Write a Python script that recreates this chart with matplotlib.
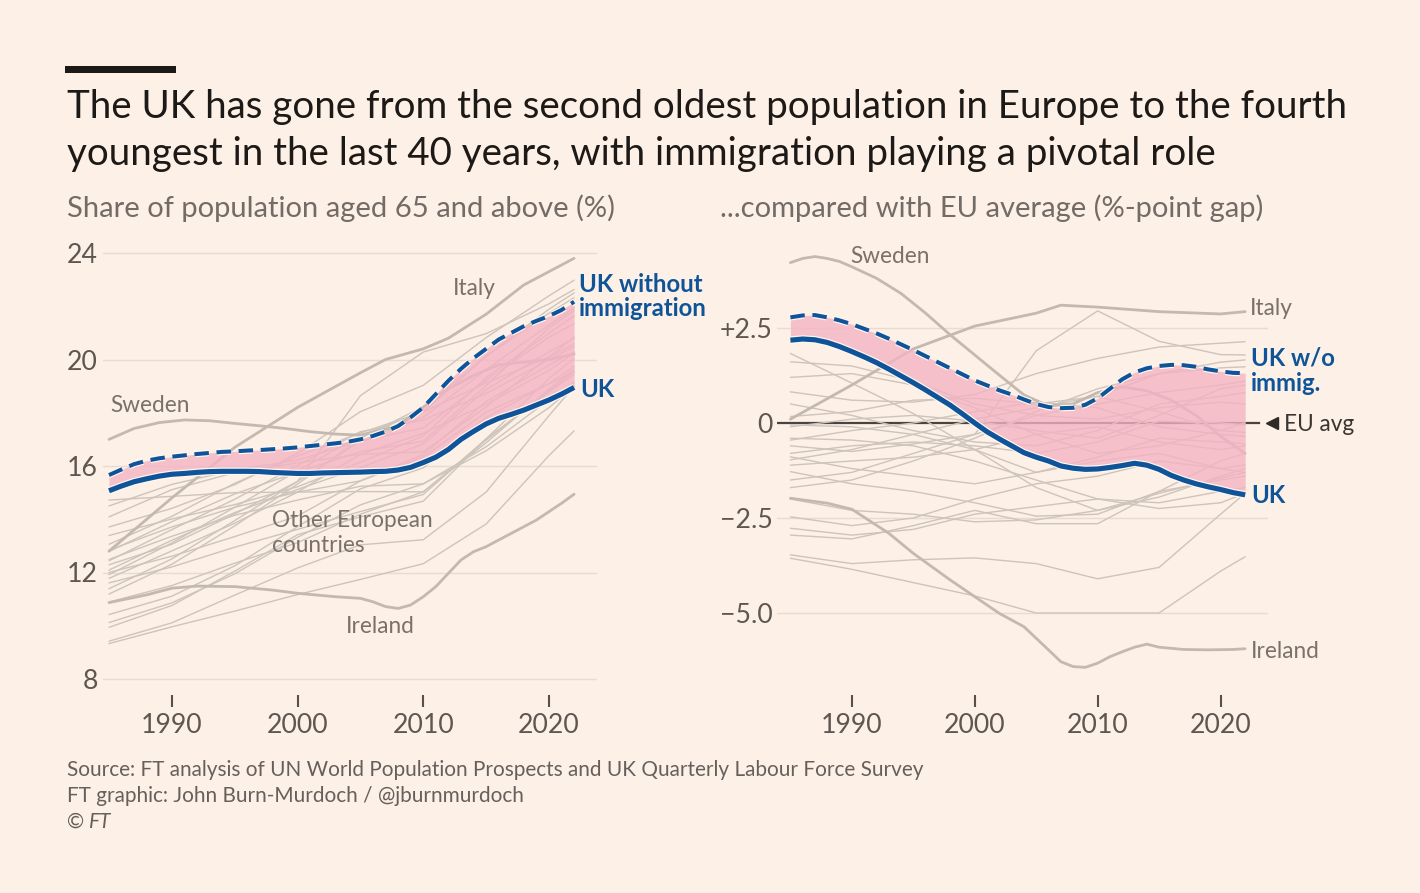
import matplotlib
matplotlib.use("Agg")
import matplotlib.pyplot as plt
from matplotlib.font_manager import FontProperties
from matplotlib.patches import Rectangle
import matplotlib.patheffects as pe

# ------------------------------------------------------------------ data
years = list(range(1985, 2023))
knot_years = [1985, 1990, 1995, 2000, 2005, 2010, 2015, 2020, 2022]

# Share of population aged 65+ (%)
uk_share = [15.07, 15.25, 15.41, 15.52, 15.62, 15.69, 15.72, 15.76, 15.79, 15.80,
            15.80, 15.80, 15.79, 15.76, 15.74, 15.72, 15.72, 15.74, 15.75, 15.76,
            15.77, 15.79, 15.80, 15.85, 15.95, 16.13, 16.33, 16.62, 17.00, 17.30,
            17.58, 17.79, 17.94, 18.10, 18.29, 18.48, 18.70, 18.95]
uk_noimm_share = [15.66, 15.87, 16.07, 16.20, 16.29, 16.35, 16.40, 16.45, 16.49, 16.53,
                  16.55, 16.58, 16.60, 16.63, 16.66, 16.70, 16.75, 16.80, 16.85, 16.91,
                  17.00, 17.13, 17.29, 17.50, 17.83, 18.20, 18.70, 19.20, 19.65, 20.05,
                  20.40, 20.75, 21.00, 21.25, 21.45, 21.63, 21.86, 22.17]

# Gap with the EU average (%-points)
uk_gap = [2.18, 2.21, 2.19, 2.12, 2.01, 1.88, 1.74, 1.59, 1.42, 1.24,
          1.06, 0.87, 0.67, 0.47, 0.24, 0.00, -0.23, -0.42, -0.60, -0.78,
          -0.90, -1.00, -1.13, -1.19, -1.22, -1.21, -1.17, -1.12, -1.06, -1.11,
          -1.22, -1.38, -1.50, -1.60, -1.68, -1.75, -1.83, -1.89]
uk_noimm_gap = [2.78, 2.83, 2.84, 2.78, 2.70, 2.60, 2.48, 2.36, 2.22, 2.07,
                1.92, 1.76, 1.60, 1.44, 1.28, 1.12, 0.99, 0.86, 0.75, 0.62,
                0.50, 0.42, 0.39, 0.40, 0.48, 0.65, 0.90, 1.15, 1.33, 1.44,
                1.50, 1.53, 1.52, 1.48, 1.41, 1.36, 1.32, 1.31]

sweden_share_years = [1985, 1987, 1989, 1991, 1993, 1995, 1997, 1999, 2001, 2003,
                      2005, 2008, 2010, 2012, 2014, 2016, 2018, 2020, 2022]
sweden_share = [17.00, 17.41, 17.63, 17.73, 17.70, 17.60, 17.51, 17.41, 17.29, 17.20,
                17.16, 17.50, 18.20, 18.90, 19.40, 19.80, 19.90, 20.00, 20.20]
italy_share_years = [1985, 1990, 1995, 2000, 2005, 2007, 2010, 2012, 2015, 2018, 2020, 2022]
italy_share = [12.80, 14.80, 16.70, 18.20, 19.50, 20.00, 20.40, 20.80, 21.70, 22.80, 23.30, 23.80]
ireland_share_years = [1985, 1988, 1990, 1992, 1995, 1998, 2000, 2003, 2005, 2006, 2007,
                       2008, 2009, 2010, 2011, 2012, 2013, 2014, 2015, 2017, 2019, 2021, 2022]
ireland_share = [10.87, 11.16, 11.41, 11.49, 11.47, 11.34, 11.22, 11.09, 11.03, 10.90, 10.72,
                 10.65, 10.78, 11.09, 11.47, 11.97, 12.47, 12.78, 12.97, 13.47, 13.97, 14.60, 14.94]

sweden_gap_years = [1985, 1986, 1987, 1988, 1989, 1990, 1992, 1994, 1996, 1998, 2000,
                    2002, 2004, 2006, 2008, 2010, 2012, 2014, 2016, 2018, 2020, 2022]
sweden_gap = [4.22, 4.33, 4.38, 4.33, 4.25, 4.11, 3.81, 3.41, 2.89, 2.32, 1.79,
              1.26, 0.74, 0.45, 0.50, 0.80, 0.95, 0.85, 0.60, 0.20, -0.35, -0.80]
italy_gap_years = [1985, 1990, 1995, 2000, 2005, 2007, 2010, 2015, 2020, 2022]
italy_gap = [0.10, 1.00, 1.95, 2.55, 2.89, 3.10, 3.05, 2.93, 2.87, 2.93]
ireland_gap_years = [1985, 1988, 1990, 1993, 1995, 1998, 2000, 2002, 2004, 2006, 2007, 2008,
                     2009, 2010, 2011, 2012, 2013, 2014, 2015, 2017, 2019, 2021, 2022]
ireland_gap = [-1.98, -2.11, -2.27, -2.90, -3.43, -4.13, -4.57, -5.01, -5.36, -5.97, -6.28, -6.41,
               -6.43, -6.32, -6.15, -6.02, -5.90, -5.82, -5.90, -5.96, -5.97, -5.96, -5.94]

# EU average share (%), at knot years
eu_avg = [12.89, 13.81, 14.75, 15.72, 16.74, 17.33, 18.82, 20.29, 20.84]

# Other European countries: gap with EU average at knot years
other_gaps = [
    [-0.60, -0.75, -0.55, -0.30, 1.90, 2.95, 2.15, 1.80, 1.79],
    [1.83, 1.05, 0.25, -0.70, -1.70, -2.30, -1.85, -1.45, -1.30],
    [1.61, 1.50, 1.10, 0.50, 0.20, 0.10, 0.40, 0.55, 0.50],
    [0.82, 0.60, 0.55, 0.75, 1.30, 1.70, 2.00, 2.10, 2.14],
    [0.17, 0.30, 0.60, 0.65, 0.50, 0.70, 1.30, 1.45, 1.48],
    [-0.10, 0.10, 0.20, 0.05, -0.20, -0.40, 0.20, 0.90, 1.00],
    [-0.45, -0.20, 0.00, 0.30, 0.55, 0.40, -0.10, -0.30, -0.35],
    [-0.80, -0.60, -0.50, -0.60, -0.80, -0.50, 0.05, 0.00, -0.05],
    [-0.97, -0.70, -0.30, 0.10, 0.40, 0.70, 0.30, -0.20, -0.25],
    [-1.11, -1.00, -0.90, -0.70, -0.30, -0.10, -0.50, -0.70, -0.60],
    [-1.28, -1.60, -1.80, -2.10, -2.45, -2.40, -1.80, -1.50, -1.40],
    [-0.40, -0.45, -0.60, -1.00, -1.50, -2.00, -2.25, -2.10, -1.85],
    [-0.05, -0.10, -0.30, -0.70, -1.30, -1.00, -0.80, -1.20, -1.30],
    [-2.47, -2.70, -2.50, -2.00, -1.60, -1.40, -1.00, -1.20, -1.10],
    [-2.77, -2.95, -2.80, -2.40, -2.20, -2.00, -2.10, -1.80, -1.70],
    [-2.95, -3.05, -2.70, -2.30, -2.65, -2.65, -1.80, -1.00, -0.80],
    [-3.47, -3.70, -3.60, -3.55, -3.70, -4.10, -3.80, -2.40, -1.85],
    [-3.56, -3.85, -4.20, -4.55, -5.00, -5.00, -5.00, -3.90, -3.52],
    [0.50, 0.20, -0.20, -0.50, -0.60, -0.20, 0.50, 0.70, 0.80],
    [-1.50, -1.30, -0.80, -0.30, 0.20, 0.50, 0.80, 1.00, 1.10],
    [-0.89, -1.20, -1.40, -1.60, -1.30, -0.90, -0.40, -0.50, -0.55],
    [-2.00, -2.30, -2.40, -2.60, -2.55, -2.30, -1.95, -1.40, -1.20],
    [-1.70, -1.50, -1.00, -0.40, 0.30, 0.90, 1.30, 1.60, 1.66],
    [1.20, 1.30, 1.00, 0.40, -0.30, -0.80, -0.60, -0.20, 0.00],
]
other_shares = [[g + e for g, e in zip(gap, eu_avg)] for gap in other_gaps]

left_yticks = [8, 12, 16, 20, 24]
left_ylabels = ["8", "12", "16", "20", "24"]
right_yticks = [2.5, 0, -2.5, -5.0]
right_ylabels = ["+2.5", "0", "\u22122.5", "\u22125.0"]
xticks = [1990, 2000, 2010, 2020]
xlabels = ["1990", "2000", "2010", "2020"]

title_lines = ["The UK has gone from the second oldest population in Europe to the fourth",
               "youngest in the last 40 years, with immigration playing a pivotal role"]
subtitle_left = "Share of population aged 65 and above (%)"
subtitle_right = "...compared with EU average (%-point gap)"
footer_lines = ["Source: FT analysis of UN World Population Prospects and UK Quarterly Labour Force Survey",
                "FT graphic: John Burn-Murdoch / @jburnmurdoch"]

# ------------------------------------------------------------------ style
BG = "#FDF0E6"
BLUE = "#0F5499"
PINK = "#F5B3C3"
GREY = "#CDC4BC"
KEYGREY = "#C3B9B1"
GRID = "#E8DCD2"
TICKC = "#5E5751"
LABELC = "#7A716B"
FAM = ["Lato", "DejaVu Sans"]
plt.rcParams["font.family"] = FAM

W, H = 1420, 893
fig = plt.figure(figsize=(W / 100, H / 100), dpi=100)
fig.patch.set_facecolor(BG)
renderer = fig.canvas.get_renderer()


def text_width(text, size, **kw):
    fp = FontProperties(family=FAM, size=size, **kw)
    w, _, _ = renderer.get_text_width_height_descent(text, fp, ismath=False)
    return w


def fit(text, target_px, **kw):
    return 50.0 * target_px / text_width(text, 50, **kw)


def fx(x):
    return x / W


def fy(y):
    return 1 - y / H


fs_title = fit(title_lines[0], 1278)
fs_sub = fit(subtitle_left, 546)
fs_foot = fit(footer_lines[0], 854)
fs_tick = fit("1990", 62)
fs_blue = fit("UK without", 124, weight="bold")
fs_grey = fit("Other European", 160)

# header
fig.add_artist(Rectangle((fx(65), fy(73)), 111 / W, 7 / H, transform=fig.transFigure,
                         color="#1C1917", lw=0))
fig.text(fx(67), fy(118), title_lines[0], fontsize=fs_title, color="#1C1917", va="baseline")
fig.text(fx(67), fy(165), title_lines[1], fontsize=fs_title, color="#1C1917", va="baseline")
fig.text(fx(67), fy(217), subtitle_left, fontsize=fs_sub, color="#736B65", va="baseline")
fig.text(fx(720), fy(217), subtitle_right, fontsize=fs_sub, color="#736B65", va="baseline")
fig.text(fx(67), fy(776), footer_lines[0], fontsize=fs_foot, color="#66605C", va="baseline")
fig.text(fx(67), fy(802), footer_lines[1], fontsize=fs_foot, color="#66605C", va="baseline")
copy_w = text_width("\u00a9", fs_foot)
fig.text(fx(67), fy(828), "\u00a9", fontsize=fs_foot, color="#66605C", va="baseline")
fig.text(fx(67 + copy_w + 5), fy(828), "FT", fontsize=fs_foot, color="#66605C",
         va="baseline", style="italic")

# ------------------------------------------------------------------ axes
axL = fig.add_axes([fx(103), fy(707), (597 - 103) / W, (707 - 245) / H])
axR = fig.add_axes([fx(777), fy(707), (1268 - 777) / W, (707 - 240) / H])
axL.set_xlim(1985 + (103 - 109) / 12.57, 1985 + (597 - 109) / 12.57)
axL.set_ylim(24 - (707 - 253) / 26.625, 24 - (245 - 253) / 26.625)
axR.set_xlim(1985 + (777 - 790.4) / 12.29, 1985 + (1268 - 790.4) / 12.29)
axR.set_ylim((423 - 707) / 38.0, (423 - 240) / 38.0)

for ax in (axL, axR):
    ax.set_facecolor("none")
    for s in ax.spines.values():
        s.set_visible(False)
    ax.set_xticks(xticks, xlabels)
    ax.tick_params(axis="x", direction="in", length=8.6, width=1.5, color="#57504B",
                   pad=4.5, labelsize=fs_tick, labelcolor=TICKC)
    ax.tick_params(axis="y", length=0, labelsize=fs_tick, labelcolor=TICKC)

axL.set_yticks(left_yticks, left_ylabels)
axL.tick_params(axis="y", pad=3.6)
axR.set_yticks(right_yticks, right_ylabels)
axR.tick_params(axis="y", pad=2.9)

for v in left_yticks:
    axL.axhline(v, color=GRID, lw=1.0, zorder=0)
for v in right_yticks:
    if v != 0:
        axR.axhline(v, color=GRID, lw=1.0, zorder=0)
axR.axhline(0, xmin=0, xmax=(1259 - 777) / 491, color="#4A4440", lw=1.6, zorder=0.5)
axR.plot([(1272 - 777) / 491], [0], marker="<", ms=8.5, color="#2E2A27", lw=0,
         transform=axR.get_yaxis_transform(), clip_on=False)

# grey lines
line_kw = dict(color=GREY, lw=1.0, zorder=1, solid_joinstyle="round", solid_capstyle="round")
for share in other_shares:
    axL.plot(knot_years, share, **line_kw)
for gap in other_gaps:
    axR.plot(knot_years, gap, **line_kw)

key_kw = dict(color=KEYGREY, lw=2.0, zorder=1.5, solid_joinstyle="round", solid_capstyle="round")
axL.plot(sweden_share_years, sweden_share, **key_kw)
axL.plot(italy_share_years, italy_share, **key_kw)
axL.plot(ireland_share_years, ireland_share, **key_kw)
axR.plot(sweden_gap_years, sweden_gap, **key_kw)
axR.plot(italy_gap_years, italy_gap, **key_kw)
axR.plot(ireland_gap_years, ireland_gap, **key_kw)

# pink gap + blue lines
halo_solid = [pe.Stroke(linewidth=5.4, foreground="#FFF8F2"), pe.Normal()]
halo_dash = [pe.Stroke(linewidth=4.6, foreground="#FFF8F2"), pe.Normal()]
for ax, a, b in ((axL, uk_share, uk_noimm_share), (axR, uk_gap, uk_noimm_gap)):
    ax.fill_between(years, a, b, color=PINK, alpha=0.78, lw=0, zorder=2)
    ax.plot(years, b, color=BLUE, lw=2.9, ls=(0, (3.6, 1.9)), zorder=4,
            path_effects=halo_dash, dash_capstyle="butt")
    ax.plot(years, a, color=BLUE, lw=3.7, zorder=5, path_effects=halo_solid,
            solid_capstyle="butt", solid_joinstyle="round")

# ------------------------------------------------------------------ labels
def label(x, y, s, blue=False, color=None):
    if blue:
        fig.text(fx(x), fy(y), s, fontsize=fs_blue, color=BLUE, weight="bold", va="baseline")
    else:
        fig.text(fx(x), fy(y), s, fontsize=fs_grey, color=color or LABELC, va="baseline")

label(579, 292, "UK without", blue=True)
label(579, 316, "immigration", blue=True)
label(580, 397, "UK", blue=True)
label(453, 295, "Italy")
label(110, 412, "Sweden")
label(272, 527, "Other European")
label(272, 552, "countries")
label(346, 633, "Ireland")

label(850, 263, "Sweden")
label(1250, 315, "Italy")
label(1251, 366, "UK w/o", blue=True)
label(1251, 391, "immig.", blue=True)
label(1284, 431, "EU avg", color="#3A3532")
label(1251, 503, "UK", blue=True)
label(1251, 658, "Ireland")

fig.savefig("out.png", dpi=100, facecolor=BG)
